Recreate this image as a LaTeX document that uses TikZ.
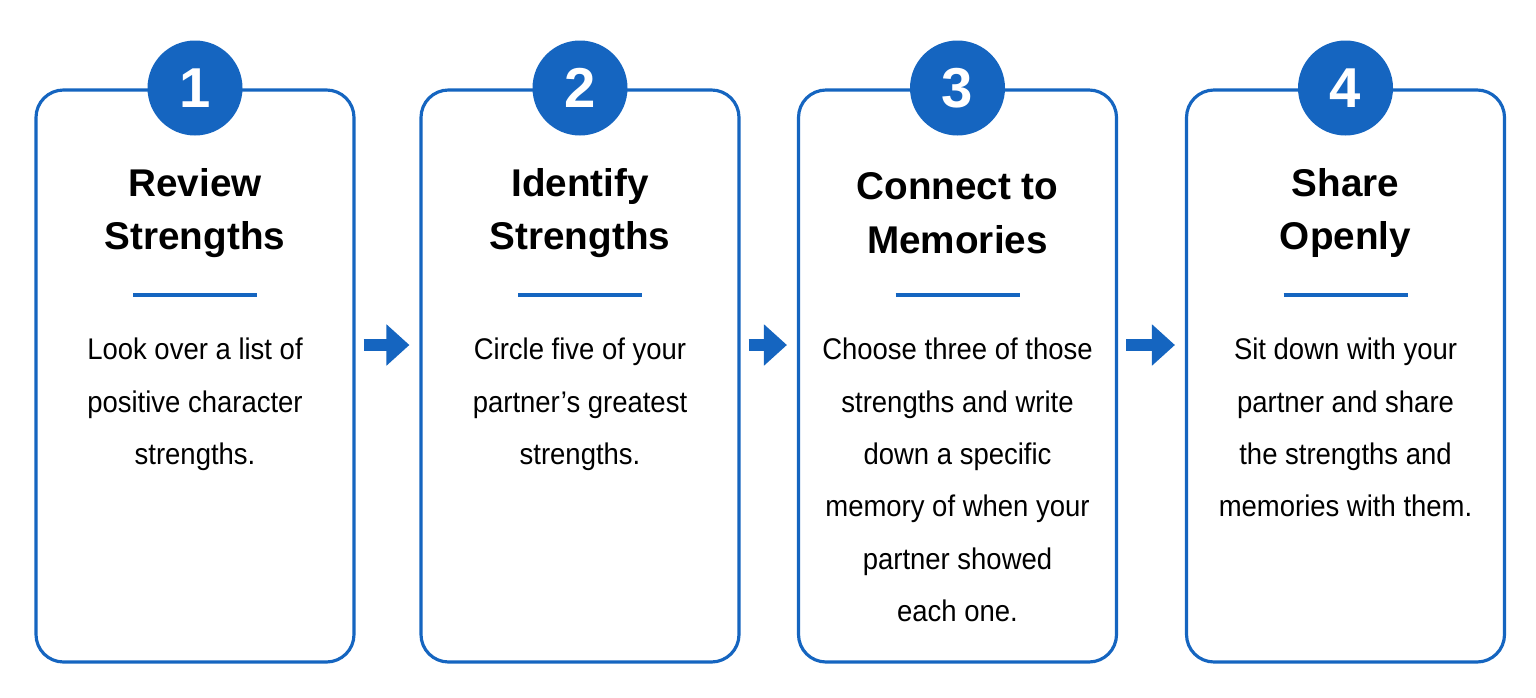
\documentclass[tikz,border=0pt]{standalone}
\usepackage{fontspec}
\setmainfont{Liberation Sans}
\newfontfamily\narrowbody[FakeStretch=0.92]{Liberation Sans}
\usetikzlibrary{arrows.meta}
\definecolor{stepblue}{HTML}{1565C0}
\tikzset{
  card/.style={draw=stepblue, line width=1.8pt, rounded corners=0.55cm, fill=white,
    minimum width=6.36cm, minimum height=11.44cm},
  badge/.style={circle, fill=stepblue, minimum size=1.9cm, inner sep=0pt, text=white,
    font=\fontsize{32}{32}\selectfont\bfseries},
  title/.style={align=center, font=\fontsize{22}{30.5}\selectfont\bfseries},
  body/.style={align=center, anchor=north, font=\narrowbody\fontsize{17}{29.8}\selectfont},
  flow/.style={draw=stepblue, line width=0.24cm, shorten <=0.16cm, shorten >=0.2cm,
    -{Triangle[length=0.46cm, width=0.8cm]}}
}
\begin{document}
\begin{tikzpicture}
  \useasboundingbox (0,0) rectangle (30.72,-13.94);
  % Cards
  \foreach \i/\x/\head/\txt in {
    1/3.9/{Review\\Strengths}/{Look over a list of\\positive character\\strengths.},
    2/11.6/{Identify\\Strengths}/{Circle five of your\\partner’s greatest\\strengths.},
    3/19.15/{Connect to\\Memories}/{Choose three of those\\strengths and write\\down a specific\\memory of when your\\partner showed\\each one.},
    4/26.91/{Share\\Openly}/{Sit down with your\\partner and share\\the strengths and\\memories with them.}}{
    \node[card] (card\i) at (\x,-7.52) {};
    \node[badge] (num\i) at (\x,-1.76) {\i};
    \node[title] (head\i) at (\x,-4.26) {\head};
    \draw[stepblue, line width=1.8pt] (\x-1.24,-5.9) -- (\x+1.24,-5.9);
    \node[body] (text\i) at (\x,-6.64) {\txt};
  }
  % Arrows
  \foreach \a/\b in {1/2,2/3,3/4}
    \draw[flow] ([yshift=0.62cm]card\a.east) -- ([yshift=0.62cm]card\b.west);
\end{tikzpicture}
\end{document}
